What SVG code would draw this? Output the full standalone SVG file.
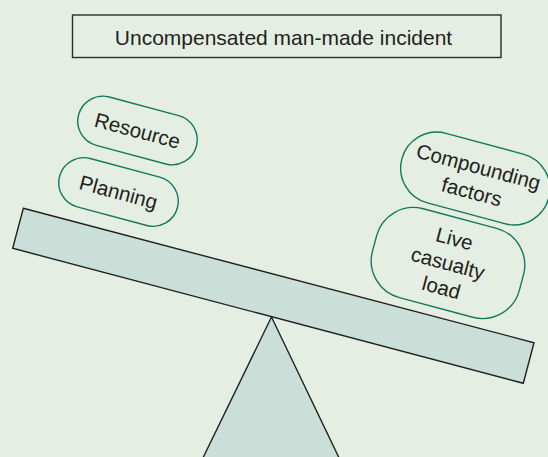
<svg xmlns="http://www.w3.org/2000/svg" width="548" height="457" viewBox="0 0 548 457">
  <style>
    .bg { fill: #e4eee3; }
    .frame { fill: none; stroke: #2b2b2b; stroke-width: 1.4; }
    .solid { fill: #c9dfd8; stroke: #231f20; stroke-width: 1.4; stroke-linejoin: miter; }
    .pill { fill: none; stroke: #14785c; stroke-width: 1.4; }
    .label { font-family: "Liberation Sans", Arial, sans-serif; font-size: 20.5px; fill: #231f20; text-anchor: middle; }
    .title { font-family: "Liberation Sans", Arial, sans-serif; font-size: 21px; fill: #231f20; text-anchor: middle; }
  </style>

  <rect class="bg" x="0" y="0" width="548" height="457"/>

  <!-- heading -->
  <g id="title">
    <rect class="frame" x="72.5" y="15" width="428.5" height="42.5"/>
    <text class="title" x="283.5" y="44.5">Uncompensated man-made incident</text>
  </g>

  <!-- fulcrum and tilted beam -->
  <g id="fulcrum">
    <polygon class="solid" points="271.5,317 200,464 342,464"/>
  </g>
  <g id="beam">
    <polygon class="solid" points="23.3,208.3 534,342.7 523.3,383.3 12.7,248.3"/>
  </g>

  <!-- left side weights -->
  <g id="resource" transform="translate(137.5 130.5) rotate(15)">
    <rect class="pill" x="-61" y="-25" width="122" height="50" rx="25" ry="25"/>
    <text class="label" x="0" y="7.3">Resource</text>
  </g>
  <g id="planning" transform="translate(118.5 192) rotate(15)">
    <rect class="pill" x="-61" y="-25" width="122" height="50" rx="25" ry="25"/>
    <text class="label" x="0" y="7.3">Planning</text>
  </g>

  <!-- right side weights -->
  <g id="compounding" transform="translate(475.3 178.5) rotate(15)">
    <rect class="pill" x="-76" y="-36" width="152" height="72" rx="36" ry="36"/>
    <text class="label" x="0" y="-5">Compounding</text>
    <text class="label" x="0" y="21">factors</text>
  </g>
  <g id="casualty" transform="translate(448 263) rotate(15)">
    <rect class="pill" x="-76" y="-46" width="152" height="92" rx="38" ry="38"/>
    <text class="label" x="0" y="-18">Live</text>
    <text class="label" x="0" y="7.3">casualty</text>
    <text class="label" x="0" y="32.5">load</text>
  </g>

  <!-- no connectors in this figure -->
  <g id="connectors"/>
</svg>
